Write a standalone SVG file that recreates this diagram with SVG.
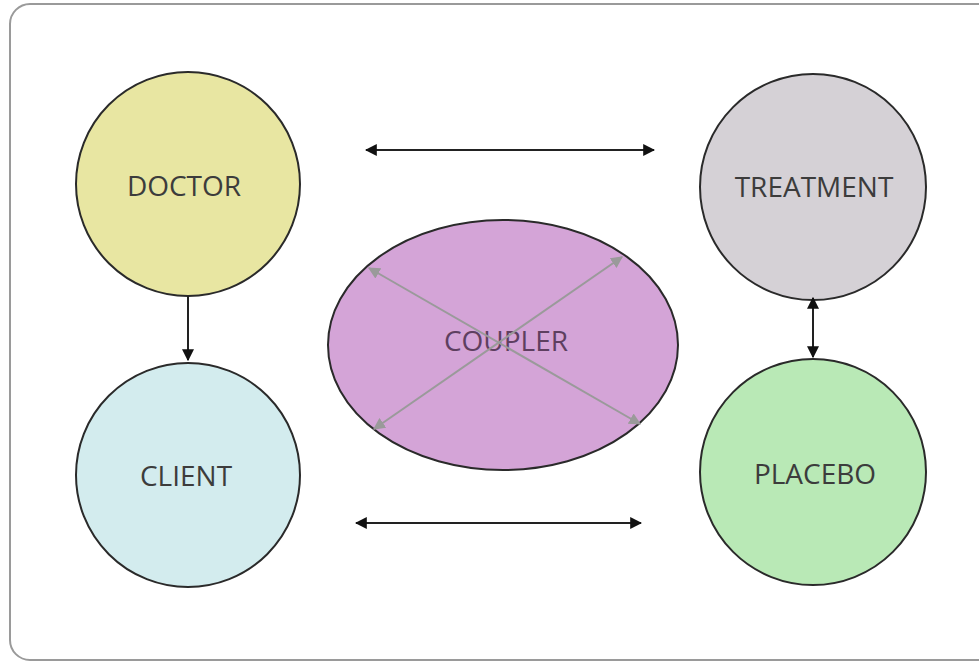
<svg xmlns="http://www.w3.org/2000/svg" width="979" height="663" viewBox="0 0 979 663">
<style>
.node{stroke:#2a2a2a;stroke-width:2}
.lbl{font-family:"Open Sans","Liberation Sans",sans-serif;font-size:28px;fill:#3c3c3c;text-anchor:middle;dominant-baseline:central}
.conn{stroke:#222;stroke-width:2;fill:none}
.inner{stroke:#9a9a9a;stroke-width:2;fill:none}
</style>
<defs>
<marker id="ah" viewBox="0 0 10 10" refX="9" refY="5" markerWidth="6" markerHeight="6" orient="auto-start-reverse" markerUnits="strokeWidth">
<path d="M0,0 L10,5 L0,10 z" fill="#111"/>
</marker>
<marker id="ag" viewBox="0 0 10 10" refX="9" refY="5" markerWidth="6" markerHeight="6" orient="auto-start-reverse" markerUnits="strokeWidth">
<path d="M0,0 L10,5 L0,10 z" fill="#9a9a9a"/>
</marker>
</defs>
<rect x="0" y="0" width="979" height="663" fill="#fff"/>
<rect x="10" y="4" width="990" height="656" rx="20" ry="20" fill="#fff" stroke="#9a9a9a" stroke-width="2"/>
<g id="doctor"><circle class="node" cx="188" cy="184" r="112" fill="#e8e6a2"/><text class="lbl" x="184" y="185">DOCTOR</text></g>
<g id="client"><circle class="node" cx="188" cy="475" r="112" fill="#d3ecee"/><text class="lbl" x="186" y="475">CLIENT</text></g>
<g id="treatment"><circle class="node" cx="813" cy="187" r="113" fill="#d5d1d6"/><text class="lbl" x="814" y="186">TREATMENT</text></g>
<g id="placebo"><circle class="node" cx="813" cy="472" r="113" fill="#b9e9b6"/><text class="lbl" x="815" y="473">PLACEBO</text></g>
<g id="coupler"><ellipse class="node" cx="503" cy="345" rx="175" ry="125" fill="#d4a4d7"/><text class="lbl" x="506" y="340" style="fill:#5e3f60">COUPLER</text></g>
<g id="connectors">
<line class="conn" x1="366" y1="150" x2="654" y2="150" marker-start="url(#ah)" marker-end="url(#ah)"/>
<line class="conn" x1="356" y1="523" x2="641" y2="523" marker-start="url(#ah)" marker-end="url(#ah)"/>
<line class="conn" x1="188" y1="296" x2="188" y2="360" marker-end="url(#ah)"/>
<line class="conn" x1="813" y1="298" x2="813" y2="357" marker-start="url(#ah)" marker-end="url(#ah)"/>
<line class="inner" x1="369" y1="268" x2="640" y2="424" marker-start="url(#ag)" marker-end="url(#ag)"/>
<line class="inner" x1="622" y1="257" x2="374" y2="429" marker-start="url(#ag)" marker-end="url(#ag)"/>
</g>
</svg>
